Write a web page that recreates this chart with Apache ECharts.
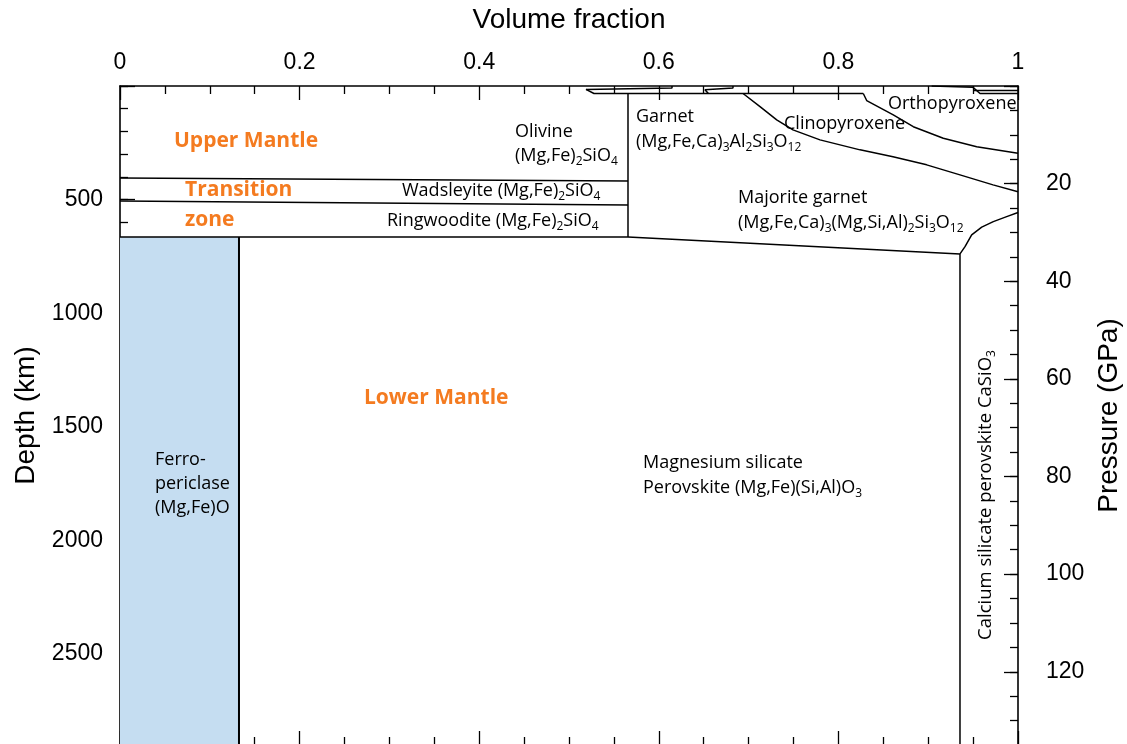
<!DOCTYPE html>
<html><head><meta charset="utf-8">
<script src="https://cdn.jsdelivr.net/npm/echarts@6/dist/echarts.min.js"></script>
<style>html,body{margin:0;padding:0;background:#fff;overflow:hidden}#c{width:1127px;height:744px}</style>
</head><body><div id="c"></div>
<script>
// ---- tick labels ----
const fractionTickLabels = [0, 0.2, 0.4, 0.6, 0.8, 1];
const depthTickLabels = [500, 1000, 1500, 2000, 2500];
const pressureTickLabels = [20, 40, 60, 80, 100, 120];

// ---- phase boundaries: [volume fraction, depth km] ----
const olivineWadsleyite = [[0, 405], [0.5657, 418]];
const wadsleyiteRingwoodite = [[0, 506], [0.5657, 524]];
const base660 = [[0, 664], [0.5657, 664], [0.9354, 739]];
const olivineGarnetDivider = [[0.5657, 33], [0.5657, 664]];
const ferropericlaseEdge = [[0.1325, 664], [0.1325, 2900]];
const caPerovskiteDivider = [[0.9354, 739], [0.9354, 2900]];
const caPerovskiteTop = [[0.9354, 739], [0.941, 707], [0.9484, 655], [0.9596, 621], [0.9725, 597], [0.9874, 575], [1.0, 557]];
const cpxMajorite = [[0.6938, 33], [0.7127, 91], [0.7313, 149], [0.7494, 193], [0.7795, 237], [0.8241, 281], [0.8608, 311], [0.8983, 347], [0.9354, 391], [0.9722, 435], [1.0, 465]];
const opxCpx = [[0.8277, 33], [0.8315, 64], [0.8611, 127], [0.8834, 179], [0.9168, 230], [0.954, 267], [1.0, 296]];
const shallowTop = [[0.5189, 15], [0.5278, 33], [0.8277, 33]];
const shallowSliver1 = [[0.6147, 0], [0.6147, 9], [0.5189, 15]];
const shallowSliver2 = [[0.6826, 0], [0.6826, 9], [0.6514, 16], [0.6552, 33]];
const shallowSliver3 = [[0.9039, 0], [0.9051, 6], [0.9499, 6], [0.9577, 33], [1.0, 33]];
const shallowSliver4 = [[0.9499, 20], [1.0, 20]];
// ferropericlase region: [x0, x1, depthTop, depthBottom]
const ferropericlaseRegion = [[0, 0.1325, 664, 2900]];

const boundaries = [olivineWadsleyite, wadsleyiteRingwoodite, base660, olivineGarnetDivider,
  caPerovskiteDivider, caPerovskiteTop, cpxMajorite, opxCpx,
  shallowTop, shallowSliver1, shallowSliver2, shallowSliver3, shallowSliver4];

const AX_FONT = 'Liberation Sans, Arial, Helvetica, sans-serif';
const LBL_FONT = 'Open Sans, Noto Sans, sans-serif';
const ORANGE = '#F47B20';
const BLACK = '#000';

const chart = echarts.init(document.getElementById('c'), null, {renderer: 'canvas'});

const tickStyle = {color: BLACK, width: 1.3};
function xAx(pos, labels) {
  return {
    type: 'value', position: pos, min: 0, max: 1, interval: 0.2,
    axisLine: {show: true, onZero: false, lineStyle: {color: BLACK, width: 1.6}},
    axisTick: {show: true, inside: true, length: 14, lineStyle: tickStyle},
    minorTick: {show: true, splitNumber: 4, length: 8, lineStyle: tickStyle},
    splitLine: {show: false}, minorSplitLine: {show: false},
    axisLabel: {show: labels, fontSize: 23, color: BLACK, fontFamily: AX_FONT, margin: 12,
      formatter: v => fractionTickLabels.includes(+v.toFixed(3)) ? String(+v.toFixed(3)) : ''},
    name: labels ? 'Volume fraction' : '', nameLocation: 'middle', nameGap: 52,
    nameTextStyle: {fontSize: 28, color: BLACK, fontFamily: AX_FONT}
  };
}
function yAx(pos, max, interval, tickLen, showLine, labels, labelList, name, nameGap, margin) {
  return {
    type: 'value', position: pos, inverse: true, min: 0, max: max, interval: interval,
    axisLine: {show: showLine, onZero: false, lineStyle: {color: BLACK, width: 1.6}},
    axisTick: {show: true, inside: true, length: tickLen, lineStyle: tickStyle},
    splitLine: {show: false},
    axisLabel: {show: labels, fontSize: 23, color: BLACK, fontFamily: AX_FONT, margin: margin,
      formatter: v => labelList.includes(v) ? String(v) : ''},
    name: name, nameLocation: 'middle', nameRotate: 90, nameGap: nameGap,
    nameTextStyle: {fontSize: 28, color: BLACK, fontFamily: AX_FONT}
  };
}

const series = [{
  type: 'custom', xAxisIndex: 0, yAxisIndex: 0, silent: true, z: 1,
  data: ferropericlaseRegion,
  renderItem: (params, api) => {
    const p1 = api.coord([api.value(0), api.value(2)]);
    const p2 = api.coord([api.value(1), api.value(3)]);
    return {type: 'rect', shape: {x: p1[0], y: p1[1], width: p2[0] - p1[0], height: p2[1] - p1[1]},
      style: {fill: '#C5DDF1'}};
  }
}];
boundaries.forEach(b => series.push({
  type: 'line', xAxisIndex: 0, yAxisIndex: 0, data: b, symbol: 'none', showSymbol: false,
  silent: true, z: 3, lineStyle: {color: BLACK, width: 1.5}
}));
series.push({
  type: 'line', xAxisIndex: 0, yAxisIndex: 0, data: ferropericlaseEdge, symbol: 'none', showSymbol: false,
  silent: true, z: 3, lineStyle: {color: BLACK, width: 2}
});

const RICH = {
  s: {fontSize: 12, fontFamily: LBL_FONT, fill: BLACK, verticalAlign: 'bottom', lineHeight: 12}
};
function txt(x, y, text, extra) {
  return {type: 'text', x: x, y: y, z: 100, silent: true,
    style: Object.assign({text: text, fill: BLACK, fontSize: 18, fontFamily: LBL_FONT,
      lineHeight: 23, align: 'left', verticalAlign: 'middle', rich: RICH}, extra || {})};
}
const orange = {fill: ORANGE, fontWeight: 'bold', fontSize: 21};
const graphics = [
  txt(174, 141, 'Upper Mantle', orange),
  txt(185, 190, 'Transition', orange),
  txt(185, 220, 'zone', orange),
  txt(364, 398, 'Lower Mantle', orange),
  txt(515, 132, 'Olivine'),
  txt(515, 156, '(Mg,Fe){s|2}SiO{s|4}'),
  txt(402, 191, 'Wadsleyite (Mg,Fe){s|2}SiO{s|4}'),
  txt(387, 221, 'Ringwoodite (Mg,Fe){s|2}SiO{s|4}'),
  txt(636, 117, 'Garnet'),
  txt(636, 142, '(Mg,Fe,Ca){s|3}Al{s|2}Si{s|3}O{s|12}'),
  txt(784, 124, 'Clinopyroxene'),
  txt(888, 104, 'Orthopyroxene'),
  txt(738, 198, 'Majorite garnet'),
  txt(738, 223, '(Mg,Fe,Ca){s|3}(Mg,Si,Al){s|2}Si{s|3}O{s|12}'),
  txt(155, 460, 'Ferro-'),
  txt(155, 484, 'periclase'),
  txt(155, 508, '(Mg,Fe)O'),
  txt(643, 463, 'Magnesium silicate'),
  txt(643, 488, 'Perovskite (Mg,Fe)(Si,Al)O{s|3}'),
  Object.assign(txt(986, 495, 'Calcium silicate perovskite CaSiO{s|3}', {align: 'center', fontSize: 18.5}), {rotation: Math.PI / 2})
];

chart.setOption({
  animation: false,
  backgroundColor: '#fff',
  grid: {left: 120, right: 109, top: 86, height: 659, containLabel: false, outerBoundsMode: 'none'},
  xAxis: [xAx('top', true), xAx('bottom', false)],
  yAxis: [
    yAx('left', 2900, 500, 15, true, true, depthTickLabels, 'Depth (km)', 80, 17),
    yAx('left', 2900, 100, 8, false, false, [], '', 0, 0),
    yAx('right', 135, 20, 14, true, true, pressureTickLabels, 'Pressure (GPa)', 70, 28),
    yAx('right', 135, 5, 8, false, false, [], '', 0, 0)
  ],
  series: series,
  graphic: graphics
});
</script></body></html>
